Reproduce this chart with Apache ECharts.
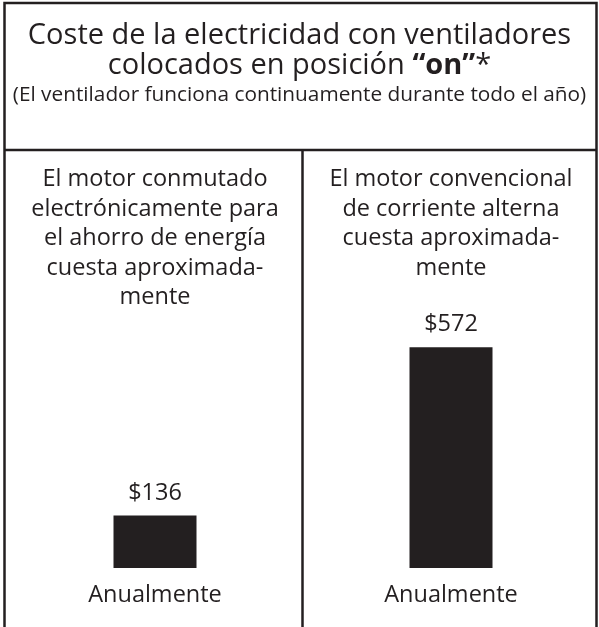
<!DOCTYPE html>
<html>
<head>
<meta charset="utf-8">
<script src="https://cdn.jsdelivr.net/npm/echarts@6/dist/echarts.min.js"></script>
<style>
  html, body { margin: 0; padding: 0; background: #fff; }
  #chart { width: 599px; height: 627px; }
</style>
</head>
<body>
<div id="chart"></div>
<script>
// datos del grafico
const motorTypes = [
  'El motor conmutado\nelectrónicamente para\nel ahorro de energía\ncuesta aproximada-\nmente',
  'El motor convencional\nde corriente alterna\ncuesta aproximada-\nmente'
];
const annualCost = [136, 572];
const periodLabels = ['Anualmente', 'Anualmente'];

const ink = '#231f20';
const font = 'Open Sans';

const chart = echarts.init(document.getElementById('chart'));

chart.setOption({
  animation: false,
  backgroundColor: '#fff',
  textStyle: { fontFamily: font, color: ink },
  title: {
    left: 'center',
    top: 16,
    text: 'Coste de la electricidad con ventiladores\ncolocados en posición {b|“on”}*',
    subtext: '(El ventilador funciona continuamente durante todo el año)',
    itemGap: 3,
    textStyle: {
      fontFamily: font,
      fontSize: 29,
      fontWeight: 'normal',
      lineHeight: 29.5,
      color: ink,
      rich: {
        b: { fontFamily: font, fontSize: 29, fontWeight: 'bold', color: ink, lineHeight: 29.5 }
      }
    },
    subtextStyle: {
      fontFamily: font,
      fontSize: 20.8,
      lineHeight: 24,
      color: ink
    }
  },
  // marco de la tabla
  graphic: [
    {
      type: 'polyline',
      shape: { points: [[4.5, 627], [4.5, 3], [596.5, 3], [596.5, 627]] },
      style: { stroke: ink, lineWidth: 2.5, fill: null }
    },
    {
      type: 'line',
      shape: { x1: 4.5, y1: 150, x2: 596.5, y2: 150 },
      style: { stroke: ink, lineWidth: 2.5 }
    },
    {
      type: 'line',
      shape: { x1: 302.5, y1: 150, x2: 302.5, y2: 627 },
      style: { stroke: ink, lineWidth: 2.5 }
    }
  ],
  grid: {
    left: 7,
    width: 594,
    top: 182,
    bottom: 59,
    containLabel: false
  },
  xAxis: [
    {
      type: 'category',
      data: periodLabels,
      position: 'bottom',
      axisLine: { show: false },
      axisTick: { show: false },
      axisLabel: {
        interval: 0,
        margin: 14,
        fontFamily: font,
        fontSize: 23.5,
        lineHeight: 27,
        color: ink,
        verticalAlign: 'top'
      }
    },
    {
      type: 'category',
      data: motorTypes,
      position: 'top',
      axisLine: { show: false },
      axisTick: { show: false },
      axisLabel: {
        interval: 0,
        hideOverlap: false,
        margin: 17,
        fontFamily: font,
        fontSize: 23.5,
        lineHeight: 29.5,
        color: ink,
        align: 'center',
        verticalAlign: 'top'
      }
    }
  ],
  yAxis: {
    type: 'value',
    min: 0,
    max: 1000,
    show: false,
    splitLine: { show: false }
  },
  series: [
    {
      type: 'bar',
      data: annualCost,
      barWidth: 83,
      itemStyle: { color: ink },
      label: {
        show: true,
        position: 'top',
        distance: 9,
        fontFamily: font,
        fontSize: 23.5,
        lineHeight: 27,
        color: ink,
        formatter: (p) => '$' + p.value
      }
    }
  ]
});
</script>
</body>
</html>
